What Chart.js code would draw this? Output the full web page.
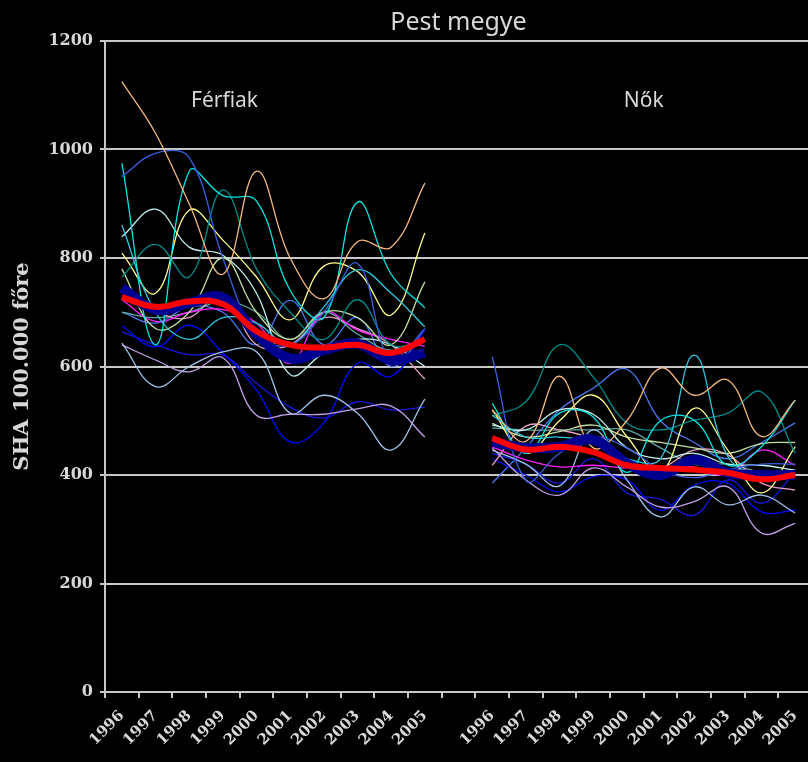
<!DOCTYPE html>
<html>
<head>
<meta charset="utf-8">
<script src="https://cdn.jsdelivr.net/npm/chart.js@4"></script>
<style>
  html, body { margin: 0; padding: 0; background: #000; overflow: hidden; }
</style>
</head>
<body>
<canvas id="grafikon" width="812" height="762"></canvas>
<script>
//-----Kategóriák (férfiak, üres hely, nők)
const evek = ['1996', '1997', '1998', '1999', '2000', '2001', '2002', '2003', '2004', '2005']
const kategoriak = [...evek, '', ...evek]

//-----Kistérségek (10 férfi érték, null, 10 női érték)
const ter01 = [1125, 1030, 900, 770, 960, 800, 725, 830, 820, 938, null, 520, 462, 582, 450, 500, 597, 547, 575, 471, 538]
const ter02 = [950, 993, 985, 800, 660, 640, 700, 790, 610, 670, null, 618, 390, 440, 470, 450, 410, 395, 410, 420, 420]
const ter03 = [975, 640, 960, 915, 905, 740, 690, 903, 770, 708, null, 532, 440, 514, 507, 405, 500, 501, 418, 452, 538]
const ter04 = [861, 700, 650, 690, 680, 640, 710, 778, 735, 673, null, 510, 470, 470, 460, 430, 430, 621, 434, 400, 404]
const ter05 = [765, 825, 765, 925, 780, 700, 650, 723, 640, 650, null, 509, 535, 640, 581, 496, 483, 501, 514, 553, 440]
const ter06 = [809, 735, 888, 833, 765, 686, 785, 775, 695, 846, null, 520, 440, 500, 547, 471, 406, 523, 446, 367, 452]
const ter07 = [839, 890, 820, 805, 735, 585, 625, 650, 640, 600, null, 492, 483, 520, 512, 450, 430, 440, 420, 418, 409]
const ter08 = [780, 670, 700, 800, 700, 650, 700, 690, 640, 756, null, 495, 470, 480, 492, 470, 460, 450, 440, 458, 460]
const ter09 = [723, 683, 700, 705, 680, 606, 700, 667, 650, 637, null, 452, 428, 415, 418, 413, 415, 415, 400, 446, 418]
const ter10 = [726, 700, 690, 735, 640, 640, 690, 670, 640, 577, null, 418, 490, 483, 465, 422, 413, 446, 437, 385, 372]
const ter11 = [640, 612, 590, 616, 510, 512, 512, 522, 527, 470, null, 450, 391, 363, 413, 378, 341, 351, 378, 293, 311]
const ter12 = [643, 563, 600, 627, 627, 514, 547, 514, 446, 540, null, 446, 420, 380, 483, 391, 323, 378, 345, 363, 330]
const ter13 = [675, 636, 676, 625, 557, 461, 496, 606, 582, 667, null, 430, 400, 369, 397, 391, 335, 381, 385, 332, 335]
const ter14 = [664, 640, 622, 621, 569, 525, 505, 535, 520, 525, null, 440, 420, 385, 430, 367, 355, 326, 391, 348, 404]
const ter15 = [700, 690, 700, 720, 700, 650, 700, 660, 630, 650, null, 487, 483, 483, 483, 483, 450, 420, 420, 405, 400]
const ter16 = [700, 680, 710, 700, 640, 722, 640, 690, 600, 667, null, 385, 450, 520, 560, 595, 500, 460, 430, 460, 496]

//-----Megyei és országos átlag
const megye = [728, 710, 720, 715, 665, 640, 635, 640, 625, 650, null, 468, 447, 452, 442, 418, 413, 410, 404, 392, 400]
const orszag = [745, 705, 717, 727, 660, 615, 630, 642, 612, 625, null, 461, 450, 452, 465, 422, 400, 428, 404, 400, 400]

const teruletek = [ter01, ter02, ter03, ter04, ter05, ter06, ter07, ter08, ter09, ter10, ter11, ter12, ter13, ter14, ter15, ter16]
const szinek = ['#f4b97f', '#3a5fe0', '#00e5e5', '#30c8e0', '#008b8b', '#ffff88', '#c0f0f0', '#c0e0a0',
    '#ff20ff', '#e8a0c8', '#c0a0e8', '#a0c4e8', '#0000ff', '#1818e0', '#5fa8a8', '#4a78f0']

const feherSzin = '#d8d8d8'
const racsSzin = '#c8c8c8'

const datasets = teruletek.map((adat, i) => ({
    data: adat,
    borderColor: szinek[i],
    borderWidth: 1.3,
    pointRadius: 0,
    tension: 0.4,
    spanGaps: false,
    order: 2 + i
}))

datasets.unshift({
    data: orszag,
    borderColor: '#000090',
    borderWidth: 10,
    pointRadius: 0,
    tension: 0.4,
    order: 1
})
datasets.unshift({
    data: megye,
    borderColor: '#ff0000',
    borderWidth: 6,
    pointRadius: 0,
    tension: 0.4,
    order: 0
})

//Felirat: Férfiak / Nők
const feliratok = {
    id: 'feliratok',
    afterDraw(chart) {
        const ctx = chart.ctx
        const x = chart.scales.x
        const y = chart.scales.y
        ctx.save()
        ctx.fillStyle = feherSzin
        ctx.font = '21px "Noto Sans"'
        ctx.textAlign = 'center'
        ctx.textBaseline = 'middle'
        ctx.fillText('Férfiak', x.getPixelForValue(3.05), y.getPixelForValue(1090))
        ctx.fillText('Nők', x.getPixelForValue(15.5), y.getPixelForValue(1090))
        ctx.restore()
    }
}

const config = {
    type: 'line',
    data: {
        labels: kategoriak,
        datasets: datasets
    },
    options: {
        responsive: false,
        animation: false,
        plugins: {
            legend: { display: false },
            tooltip: { enabled: false },
            title: {
                display: true,
                fullSize: false,
                text: 'Pest megye',
                color: feherSzin,
                font: { family: '"Noto Sans"', size: 25, weight: 'normal' },
                padding: { top: 8, bottom: 3 }
            }
        },
        scales: {
            x: {
                offset: true,
                grid: {
                    offset: true,
                    drawOnChartArea: false,
                    color: racsSzin,
                    lineWidth: 2,
                    tickLength: 6
                },
                border: { color: racsSzin, width: 2 },
                ticks: {
                    color: feherSzin,
                    autoSkip: false,
                    minRotation: 45,
                    maxRotation: 45,
                    padding: 9,
                    font: { family: '"DejaVu Serif"', size: 15, weight: 'bold' }
                },
                afterFit(scale) {
                    scale.height = 70
                    scale.paddingLeft = 0
                    scale.paddingRight = 0
                }
            },
            y: {
                min: 0,
                max: 1200,
                ticks: {
                    stepSize: 200,
                    color: feherSzin,
                    padding: 7,
                    callback: v => String(v),
                    font: { family: '"DejaVu Serif"', size: 16, weight: 'bold' }
                },
                grid: {
                    color: racsSzin,
                    lineWidth: 2,
                    tickLength: 5
                },
                border: { color: racsSzin, width: 2 },
                title: {
                    display: true,
                    text: 'SHA 100.000 főre',
                    color: feherSzin,
                    padding: { top: 10, bottom: 4 },
                    font: { family: '"DejaVu Serif"', size: 21, weight: 'bold' }
                },
                afterFit(scale) {
                    scale.width = 105
                }
            }
        }
    },
    plugins: [feliratok]
}

const grafikon = new Chart(document.getElementById('grafikon'), config)
</script>
</body>
</html>
